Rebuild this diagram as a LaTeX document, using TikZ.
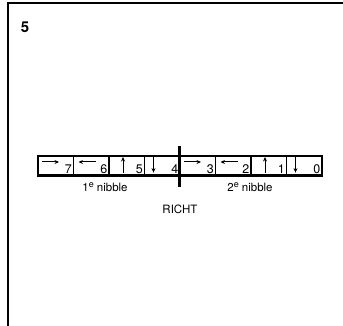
\documentclass[tikz,border=0pt]{standalone}
\usepackage{fontspec}
\setmainfont{TeX Gyre Heros}
\usetikzlibrary{arrows.meta}
\newcommand\supe{\raisebox{4pt}{\fontsize{9}{9}\selectfont e}}
\begin{document}
\begin{tikzpicture}[x=1pt,y=-1pt,
  cell/.style={draw,line width=1.6pt,minimum width=35.5pt,minimum height=19pt,inner sep=0pt,anchor=north west},
  num/.style={font=\fontsize{12.5}{12.5}\selectfont,anchor=south east,inner sep=0pt},
  arr/.style={line width=1pt,-{Stealth[length=4.5pt,width=4pt]}},
  lbl/.style={font=\fontsize{11.5}{11.5}\selectfont},
  frame/.style={line width=1.8pt}]
\useasboundingbox (0,0) rectangle (343,326);
% frame
\draw[frame] (8,326) -- (8,3) -- (343,3);
\node[font=\bfseries\fontsize{15}{15}\selectfont] (fig) at (25,27) {5};
% register cells
\foreach \k in {0,...,7}{
  \pgfmathtruncatemacro\n{7-\k}
  \node[cell] (c\n) at ({37+35.5*\k},155) {};
  \node[num] (n\n) at ([xshift=-2pt,yshift=1.5pt]c\n.south east) {\n};
}
\draw[line width=2.6pt] (c7.south west) -- (c0.south east);
% arrows
\foreach \c in {7,3}{
  \draw[arr] ([xshift=5pt,yshift=-7pt]c\c.north west) -- ([xshift=22pt,yshift=-7pt]c\c.north west);}
\foreach \c in {6,2}{
  \draw[arr] ([xshift=23pt,yshift=-7pt]c\c.north west) -- ([xshift=6pt,yshift=-7pt]c\c.north west);}
\foreach \c in {5,1}{
  \draw[arr] ([xshift=15pt,yshift=3pt]c\c.south west) -- ([xshift=15pt,yshift=-2pt]c\c.north west);}
\foreach \c in {4,0}{
  \draw[arr] ([xshift=10pt,yshift=-2pt]c\c.north west) -- ([xshift=10pt,yshift=3pt]c\c.south west);}
% divider
\coordinate (dtop) at (179,146);
\coordinate (dbot) at (179,187);
\draw[line width=3pt] (dtop) -- (dbot);
% labels
\node[lbl] (nib1) at (105,187) {1\supe\ nibble};
\node[lbl] (nib2) at (250,187) {2\supe\ nibble};
\node[lbl] (richt) at (180,209) {RICHT};
\end{tikzpicture}
\end{document}
